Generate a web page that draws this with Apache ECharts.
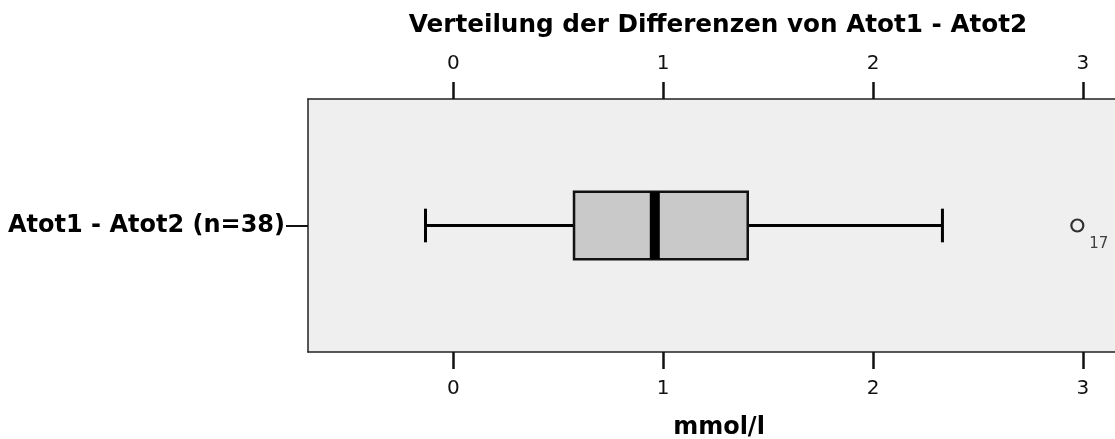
<!DOCTYPE html>
<html>
<head>
<meta charset="utf-8">
<script src="https://cdn.jsdelivr.net/npm/echarts@6/dist/echarts.min.js"></script>
<style>
  html, body { margin: 0; padding: 0; background: #ffffff; }
  #chart { width: 1115px; height: 439px; }
</style>
</head>
<body>
<div id="chart"></div>
<script>
// ---- data ----
const categories = ['Atot1 - Atot2 (n=38)'];
// [min whisker, Q1, median, Q3, max whisker] in mmol/l
const boxStats = [[-0.133, 0.575, 0.960, 1.403, 2.331]];
const outlierValues = [2.974];
const outlierCategory = [0];
const outlierLabels = ['17'];
const tickValues = [0, 1, 2, 3];
const axisMin = -0.693;
const axisMax = 3.225;

const titleText = 'Verteilung der Differenzen von Atot1 - Atot2';
const axisTitle = 'mmol/l';

const FONT = 'DejaVu Sans';

const boxData = boxStats.map((s, i) => [i].concat(s));
const outlierData = outlierValues.map((v, i) => [v, outlierCategory[i], outlierLabels[i]]);

const chart = echarts.init(document.getElementById('chart'), null, { renderer: 'canvas' });

function renderBox(params, api) {
  const cat = api.value(0);
  const vMin = api.value(1), q1 = api.value(2), med = api.value(3), q3 = api.value(4), vMax = api.value(5);
  const band = api.size([0, 1])[1];
  const half = band * 0.133;
  const capHalf = half / 2;
  const pMin = api.coord([vMin, cat]);
  const pQ1 = api.coord([q1, cat]);
  const pMed = api.coord([med, cat]);
  const pQ3 = api.coord([q3, cat]);
  const pMax = api.coord([vMax, cat]);
  const cy = pMed[1];
  const lineStyle = { stroke: '#000', lineWidth: 3 };
  return {
    type: 'group',
    children: [
      { type: 'line', shape: { x1: pMin[0], y1: cy, x2: pQ1[0], y2: cy }, style: lineStyle },
      { type: 'line', shape: { x1: pQ3[0], y1: cy, x2: pMax[0], y2: cy }, style: lineStyle },
      { type: 'line', shape: { x1: pMin[0], y1: cy - capHalf, x2: pMin[0], y2: cy + capHalf }, style: lineStyle },
      { type: 'line', shape: { x1: pMax[0], y1: cy - capHalf, x2: pMax[0], y2: cy + capHalf }, style: lineStyle },
      { type: 'rect', shape: { x: pQ1[0], y: cy - half, width: pQ3[0] - pQ1[0], height: 2 * half },
        style: { fill: '#c9c9c9', stroke: '#111', lineWidth: 2.5 } },
      { type: 'line', shape: { x1: pMed[0], y1: cy - half, x2: pMed[0], y2: cy + half },
        style: { stroke: '#000', lineWidth: 10 } }
    ]
  };
}

const xAxisCommon = {
  type: 'value',
  min: axisMin,
  max: axisMax,
  splitLine: { show: false },
  axisLine: { show: true, onZero: false, lineStyle: { color: '#222', width: 1.5 } },
  axisTick: { show: true, length: 17, lineStyle: { color: '#111', width: 2.5 }, customValues: tickValues },
  axisLabel: { fontFamily: FONT, fontSize: 20, color: '#111', customValues: tickValues }
};

chart.setOption({
  backgroundColor: '#ffffff',
  animation: false,
  title: {
    text: titleText,
    left: 718,
    top: 13,
    padding: 0,
    textAlign: 'center',
    textStyle: { fontFamily: FONT, fontSize: 24.7, fontWeight: 'bold', color: '#000' }
  },
  grid: {
    left: 308, width: 822, top: 99, height: 253,
    show: true, backgroundColor: '#efefef', borderWidth: 0,
    containLabel: false,
    outerBoundsMode: 'none'
  },
  xAxis: [
    Object.assign({}, xAxisCommon, {
      position: 'bottom',
      axisLabel: Object.assign({}, xAxisCommon.axisLabel, { margin: 27 }),
      name: axisTitle,
      nameLocation: 'middle',
      nameGap: 64,
      nameTextStyle: { fontFamily: FONT, fontSize: 24, fontWeight: 'bold', color: '#000' }
    }),
    Object.assign({}, xAxisCommon, {
      position: 'top',
      axisLabel: Object.assign({}, xAxisCommon.axisLabel, { margin: 25 })
    })
  ],
  yAxis: {
    type: 'category',
    data: categories,
    boundaryGap: true,
    axisLine: { show: true, onZero: false, lineStyle: { color: '#222', width: 1.5 } },
    axisTick: { show: true, alignWithLabel: true, length: 22, lineStyle: { color: '#111', width: 2 } },
    axisLabel: { fontFamily: FONT, fontSize: 24, fontWeight: 'bold', color: '#000', margin: 23 },
    splitLine: { show: false }
  },
  series: [
    {
      type: 'custom',
      name: 'box',
      renderItem: renderBox,
      encode: { x: [1, 2, 3, 4, 5], y: 0 },
      data: boxData,
      z: 3
    },
    {
      type: 'scatter',
      name: 'outlier',
      data: outlierData,
      encode: { x: 0, y: 1 },
      symbol: 'circle',
      symbolSize: 12,
      itemStyle: { color: 'rgba(0,0,0,0)', borderColor: '#000', borderWidth: 2.2 },
      label: {
        show: true,
        formatter: p => p.data[2],
        position: [19, 26],
        align: 'left',
        verticalAlign: 'middle',
        fontFamily: FONT,
        fontSize: 15,
        color: '#111'
      },
      z: 4
    }
  ]
});
</script>
</body>
</html>
